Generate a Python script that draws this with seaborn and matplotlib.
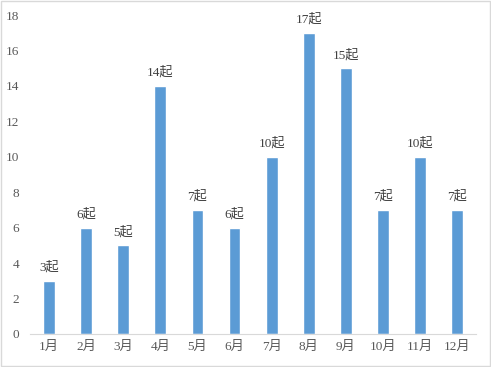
import matplotlib
matplotlib.use("Agg")
import matplotlib.pyplot as plt
import seaborn as sns
import pandas as pd
from matplotlib.patches import Rectangle

months = ["1月", "2月", "3月", "4月", "5月", "6月", "7月", "8月", "9月", "10月", "11月", "12月"]
counts = [3, 6, 5, 14, 7, 6, 10, 17, 15, 7, 10, 7]
labels = [f"{v}起" for v in counts]
yticks = [0, 2, 4, 6, 8, 10, 12, 14, 16, 18]

sns.set_style("white")
plt.rcParams["font.family"] = ["Liberation Serif", "Noto Sans CJK SC", "DejaVu Sans"]

df = pd.DataFrame({"month": months, "count": counts})

fig = plt.figure(figsize=(4.91, 3.67), dpi=100)
ax = fig.add_axes([0.062, 0.09, 0.907, 0.869])
sns.barplot(data=df, x="month", y="count", color="#5B9BD5", saturation=1, width=0.32, ax=ax)

ax.set_ylim(0, 18)
ax.set_yticks(yticks)
ax.set_xlim(-0.5, len(months) - 0.5)
ax.set_xlabel("")
ax.set_ylabel("")
ax.tick_params(axis="both", length=0, labelsize=9.5, colors="#595959")
ax.tick_params(axis="y", pad=8)
ax.tick_params(axis="x", pad=5)
for s in ["top", "right", "left"]:
    ax.spines[s].set_visible(False)
ax.spines["bottom"].set_color("#d9d9d9")
ax.spines["bottom"].set_linewidth(0.8)

for i, (v, lab) in enumerate(zip(counts, labels)):
    ax.annotate(lab, (i, v), xytext=(0, 5), textcoords="offset points",
                ha="center", va="bottom", fontsize=9.5, color="#404040")

fig.patches.append(Rectangle((0.002, 0.002), 0.996, 0.996, transform=fig.transFigure,
                             fill=False, edgecolor="#d9d9d9", linewidth=1))

fig.savefig("out.png", dpi=100)
